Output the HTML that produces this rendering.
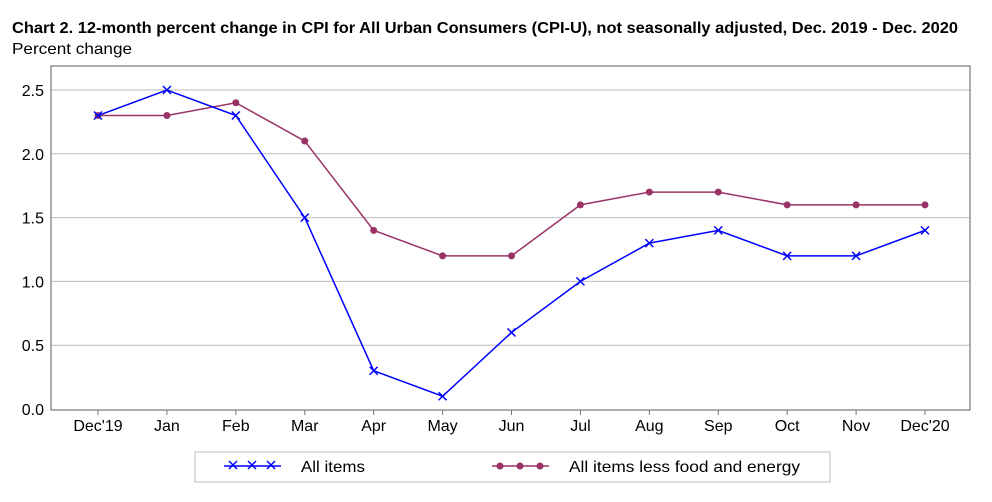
<!DOCTYPE html>
<html><head><meta charset="utf-8"><style>
body{margin:0;background:#fff;font-family:"Liberation Sans","DejaVu Sans",sans-serif;}
</style></head><body>
<svg width="992" height="502" style="display:block">
<text x="12" y="33" font-size="15.5" font-weight="bold" fill="#000" textLength="946" lengthAdjust="spacingAndGlyphs">Chart 2. 12-month percent change in CPI for All Urban Consumers (CPI-U), not seasonally adjusted, Dec. 2019 - Dec. 2020</text>
<text x="12" y="54" font-size="16" fill="#000" textLength="120" lengthAdjust="spacingAndGlyphs">Percent change</text>
<g id="grid"></g>
<rect x="51" y="66" width="919" height="344" fill="none" stroke="#777" stroke-width="1.2"/>
<g id="marks"></g>
<rect x="195" y="452" width="635" height="30" fill="#fff" stroke="#bbb"/>
<g>
<line x1="224" y1="466" x2="281" y2="466" stroke="#00f" stroke-width="1.5"/>
<path d="M229 461l8 8M237 461l-8 8M248 461l8 8M256 461l-8 8M267 461l8 8M275 461l-8 8" stroke="#00f" stroke-width="1.5"/>
<text x="301" y="472" font-size="16" textLength="64" lengthAdjust="spacingAndGlyphs">All items</text>
</g>
<g>
<line x1="492" y1="466" x2="549" y2="466" stroke="#993366" stroke-width="1.5"/>
<circle cx="500" cy="466" r="3.5" fill="#993366"/><circle cx="520" cy="466" r="3.5" fill="#993366"/><circle cx="540" cy="466" r="3.5" fill="#993366"/>
<text x="569" y="472" font-size="16" textLength="231" lengthAdjust="spacingAndGlyphs">All items less food and energy</text>
</g>
</svg>
<script>
const categories=["Dec'19","Jan","Feb","Mar","Apr","May","Jun","Jul","Aug","Sep","Oct","Nov","Dec'20"];
const allItems=[2.3,2.5,2.3,1.5,0.3,0.1,0.6,1.0,1.3,1.4,1.2,1.2,1.4];
const coreItems=[2.3,2.3,2.4,2.1,1.4,1.2,1.2,1.6,1.7,1.7,1.6,1.6,1.6];
const yTicks=[0.0,0.5,1.0,1.5,2.0,2.5];
const NS="http://www.w3.org/2000/svg";
const x=i=>98+i*(925-98)/(categories.length-1);
const y=v=>409-v*(409-90)/2.5;
function mk(tag,attrs,parent){const e=document.createElementNS(NS,tag);for(const k in attrs)e.setAttribute(k,attrs[k]);parent.appendChild(e);return e;}
const grid=document.getElementById('grid'),marks=document.getElementById('marks');
yTicks.forEach(t=>{
  if(t>0){const l=mk('line',{x1:51,x2:970,y1:y(t),y2:y(t),stroke:'#bbb','stroke-width':1},grid);
  
  }
  const tx=mk('text',{x:44,y:y(t)+6,'font-size':16,'text-anchor':'end'},grid);tx.textContent=t.toFixed(1);
  
  
});
categories.forEach((c,i)=>{
  mk('line',{x1:x(i),x2:x(i),y1:410,y2:415,stroke:'#777'},grid);
  const tx=mk('text',{x:x(i),y:431,'font-size':16,'text-anchor':'middle'},grid);tx.textContent=c;
  
  
});
const pc=mk('polyline',{points:coreItems.map((v,i)=>x(i)+','+y(v)).join(' '),fill:'none',stroke:'#993366','stroke-width':1.5},marks);


coreItems.forEach((v,i)=>{const c=mk('circle',{cx:x(i),cy:y(v),r:3.5,fill:'#993366'},marks);

});
const pa=mk('polyline',{points:allItems.map((v,i)=>x(i)+','+y(v)).join(' '),fill:'none',stroke:'#00f','stroke-width':1.5},marks);


allItems.forEach((v,i)=>{const X=x(i),Y=y(v);const p=mk('path',{d:`M${X-4} ${Y-4}l8 8M${X+4} ${Y-4}l-8 8`,stroke:'#00f','stroke-width':1.5},marks);

});
</script>
</body></html>
